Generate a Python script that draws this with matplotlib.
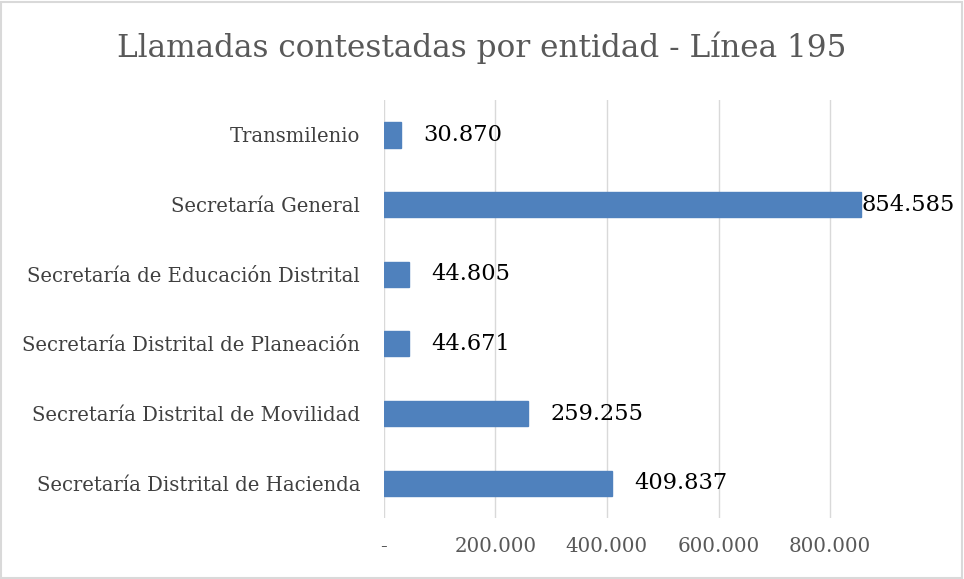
import matplotlib
matplotlib.use("Agg")
import matplotlib.pyplot as plt
from matplotlib.patches import Rectangle
from matplotlib.ticker import FuncFormatter, MultipleLocator

categories = [
    "Secretaría Distrital de Hacienda",
    "Secretaría Distrital de Movilidad",
    "Secretaría Distrital de Planeación",
    "Secretaría de Educación Distrital",
    "Secretaría General",
    "Transmilenio",
]
values = [409837, 259255, 44671, 44805, 854585, 30870]
title = "Llamadas contestadas por entidad - Línea 195"

FONT = ["DejaVu Serif"]

def fmt(v):
    if v == 0:
        return "-"
    return f"{int(v):,}".replace(",", ".")

fig = plt.figure(figsize=(9.64, 5.79), dpi=100)
ax = fig.add_axes([0.398, 0.1054, 0.521, 0.7216])

ypos = list(range(len(categories)))
ax.barh(ypos, values, height=0.36, color="#4F81BD", edgecolor="#4F81BD", zorder=3)
ax.set_ylim(-0.5, len(categories) - 0.5)
ax.set_xlim(0, 900000)
ax.xaxis.set_major_locator(MultipleLocator(200000))
ax.xaxis.set_major_formatter(FuncFormatter(lambda v, p: fmt(v) if v <= 800000 else ""))
ax.grid(axis="x", color="#D9D9D9", linewidth=1, zorder=0)
for s in ax.spines.values():
    s.set_visible(False)
ax.tick_params(axis="both", length=0)
ax.tick_params(axis="x", labelsize=14.3, labelcolor="#595959", pad=14)
ax.tick_params(axis="y", labelsize=14.1, labelcolor="#404040", pad=17)
ax.set_yticks(ypos)
ax.set_yticklabels(categories)
for lab in ax.get_xticklabels() + ax.get_yticklabels():
    lab.set_family(FONT)

vmax = max(values)
for y, v in zip(ypos, values):
    off = 1 if v == vmax else 16
    ax.annotate(fmt(v), xy=(v, y), xytext=(off, 0), textcoords="offset points",
                ha="left", va="center", fontsize=16.2, color="black", family=FONT)

fig.text(0.5, 0.917, title, ha="center", va="center", fontsize=22.4,
         color="#595959", family=FONT)

fig.patches.append(Rectangle((0.001, 0.002), 0.997, 0.995, transform=fig.transFigure,
                             fill=False, edgecolor="#D9D9D9", linewidth=1.5))

fig.savefig("out.png", dpi=100)
